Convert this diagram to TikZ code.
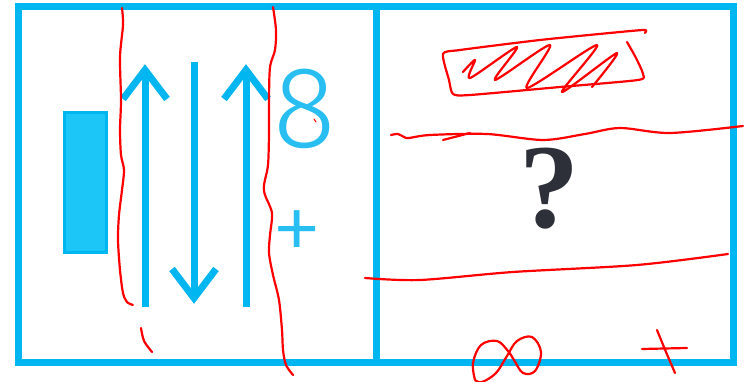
\documentclass[tikz,border=0pt]{standalone}
\usepackage{fontspec}
\newfontfamily\thinsans{Fira Sans Light}
\newfontfamily\qserif{Liberation Serif}
\definecolor{cy}{RGB}{0,182,240}
\definecolor{cyfill}{RGB}{28,198,246}
\definecolor{cylight}{RGB}{40,190,242}
\definecolor{qgray}{RGB}{45,48,56}
\definecolor{pen}{RGB}{255,0,0}
\tikzset{
  frame/.style={draw=cy, line width=7pt},
  bar/.style={draw=cy, fill=cyfill, line width=3pt},
  shaft/.style={draw=cy, line width=7pt},
  chevron/.style={draw=cy, line width=7pt, miter limit=10},
  glyph/.style={inner sep=0pt, outer sep=0pt},
  ink/.style={draw=pen, line width=2.2pt, line cap=round, line join=round},
}
\begin{document}
\begin{tikzpicture}[x=1pt, y=-1pt]
\useasboundingbox (0,0) rectangle (744,382);
\fill[white] (0,0) rectangle (744,382);
% panels
\draw[frame] (18.5,6.5) rectangle (733.5,362.5);
\draw[frame] (376.5,6.5) -- (376.5,362.5);
% bar
\draw[bar] (64,113) rectangle (106,252);
% arrows
\coordinate (a1b) at (145,307); \coordinate (a1t) at (145,70);
\coordinate (a2t) at (194,62);  \coordinate (a2b) at (194,298);
\coordinate (a3b) at (246,307); \coordinate (a3t) at (246,70);
\draw[shaft] (a1b) -- (a1t);
\draw[chevron] (123,99) -- (a1t) -- (167,99);
\draw[shaft] (a2t) -- (a2b);
\draw[chevron] (172,269) -- (a2b) -- (216,269);
\draw[shaft] (a3b) -- (a3t);
\draw[chevron] (224,99) -- (a3t) -- (268,99);
% glyphs
\node[glyph, anchor=base, text=cylight, font=\thinsans\fontsize{116}{116}\selectfont] (eight) at (305,148) {8};
\node[glyph, text=cylight, font=\thinsans\fontsize{104}{104}\selectfont] (plus) at (297,237) {+};
\node[glyph, anchor=base, text=qgray, font=\qserif\bfseries\fontsize{120}{120}\selectfont] (qm) at (549,227) {?};
% red annotations
\draw[ink] plot[smooth] coordinates {(122,8) (123,25) (120,57) (121,100) (120,130) (121,155) (124,170) (122,190) (119,215) (118,240) (120,270) (123,293) (127,302) (133,305)};
\draw[ink] plot[smooth] coordinates {(141,328) (144,341) (152,352)};
\draw[ink] plot[smooth] coordinates {(273,7) (276,30) (275,50) (270,67) (269,100) (269,133) (268,165) (264,185) (265,195) (272,213) (270,235) (269,253) (273,275) (279,300) (282,330) (283,350) (286,365) (293,375)};
\draw[ink, line width=1pt] (314,119) -- (316,122);
% scribbled box
\draw[ink] plot[smooth, tension=0.4] coordinates {(627,42) (636,58) (643,74) (638,80) (560,87) (470,95) (453,94) (449,80) (443,54) (460,50) (540,40) (620,32) (645,30) (645,33)};
\draw[ink] plot[smooth, tension=0.45] coordinates {(463,72) (475,60) (470,78) (517,47) (495,80) (550,45) (527,88) (597,45) (562,92) (617,53) (592,87)};
% horizontal strokes
\draw[ink] plot[smooth] coordinates {(391,135) (398,134) (404,137) (409,138) (430,135) (487,134) (543,140) (585,134) (620,128) (670,133) (743,126)};
\draw[ink] (443,140) -- (470,133);
\draw[ink] plot[smooth] coordinates {(365,278) (420,280) (513,272) (637,265) (728,254)};
% infinity
\draw[ink] plot[smooth, tension=0.6] coordinates {(475,380) (473,363) (481,345) (497,341) (508,351) (514,360) (523,373) (535,371) (541,352) (532,337) (517,341) (507,356) (496,373) (482,382) (475,380)};
% cross
\draw[ink] (642,349) -- (687,348);
\draw[ink] plot[smooth] coordinates {(657,330) (666,352) (675,373)};
\end{tikzpicture}
\end{document}
